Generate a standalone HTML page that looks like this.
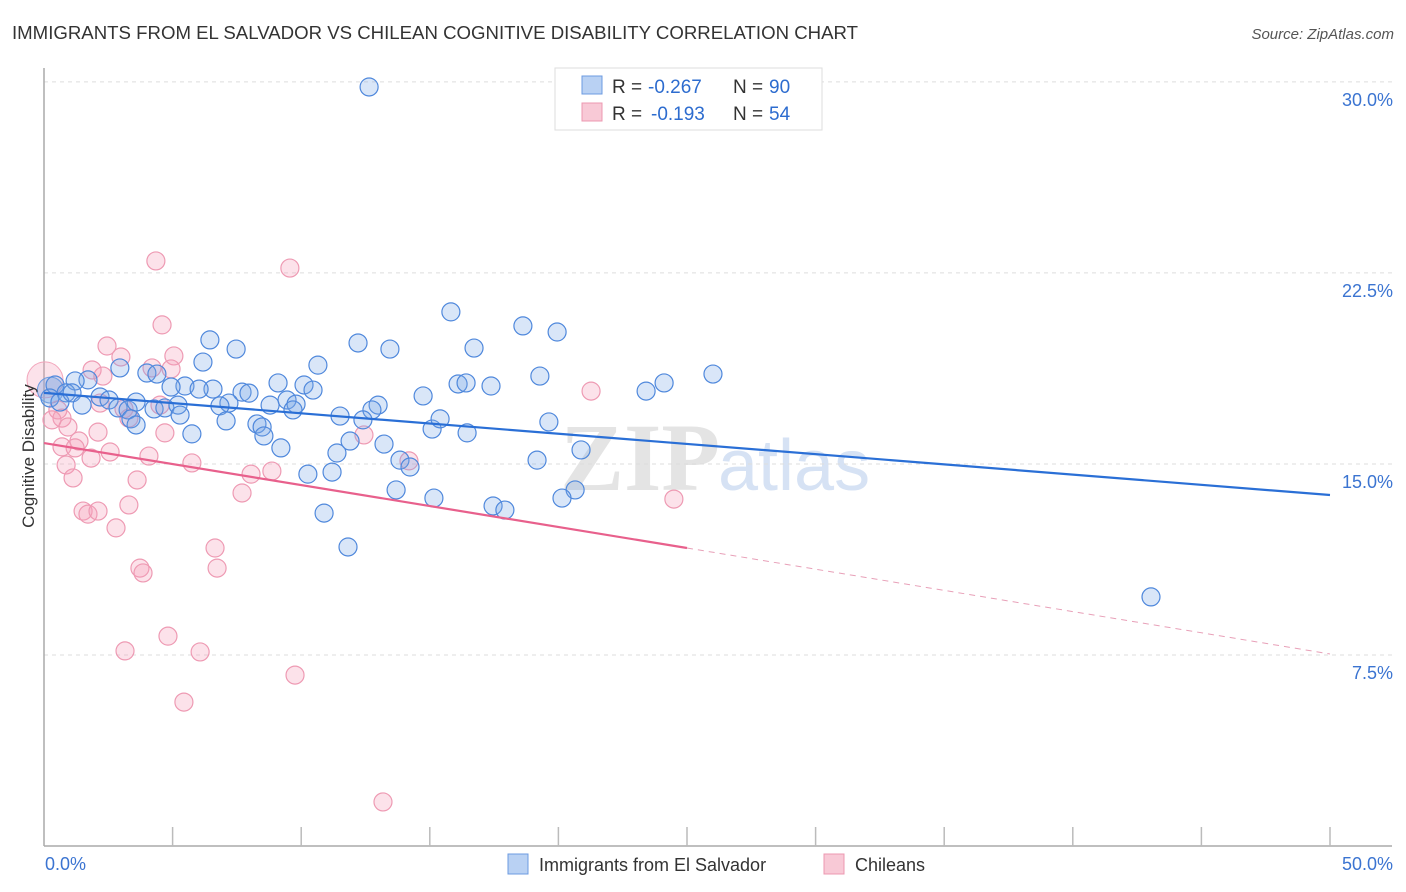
<!DOCTYPE html>
<html><head><meta charset="utf-8">
<style>
body{margin:0;background:#fff;font-family:"Liberation Sans",sans-serif;}
svg{display:block}
</style></head>
<body>
<svg id="chart" width="1406" height="892">
<text x="12" y="39" font-size="18" fill="#333" textLength="846" lengthAdjust="spacingAndGlyphs">IMMIGRANTS FROM EL SALVADOR VS CHILEAN COGNITIVE DISABILITY CORRELATION CHART</text>
<text x="1394" y="39" font-size="15" fill="#555" font-style="italic" text-anchor="end">Source: ZipAtlas.com</text>
<text x="720" y="490" font-size="96" fill="#e4e4e4" font-family="Liberation Serif,serif" font-weight="bold" text-anchor="end">ZIP</text>
<text x="718" y="490" font-size="72" fill="#d6e2f4" text-anchor="start">atlas</text>
<g id="grid"></g>
<g id="axes"></g>
<g id="pts"></g>
<g id="trend"></g>
<text transform="translate(34,456) rotate(-90)" font-size="17" fill="#333" text-anchor="middle">Cognitive Disability</text>
<g>
<rect x="555" y="68" width="267" height="62" fill="#fff" stroke="#ddd"/>
<rect x="582" y="76" width="20" height="18" fill="#b9d1f3" stroke="#6c9be0"/>
<rect x="582" y="103" width="20" height="18" fill="#f8c9d6" stroke="#ec98b0"/>
<text x="612" y="93" font-size="19" fill="#333">R =</text>
<text x="648" y="93" font-size="19" fill="#2d6ccf">-0.267</text>
<text x="733" y="93" font-size="19" fill="#333">N =</text>
<text x="769" y="93" font-size="19" fill="#2d6ccf">90</text>
<text x="612" y="120" font-size="19" fill="#333">R =</text>
<text x="651" y="120" font-size="19" fill="#2d6ccf">-0.193</text>
<text x="733" y="120" font-size="19" fill="#333">N =</text>
<text x="769" y="120" font-size="19" fill="#2d6ccf">54</text>
</g>
<g>
<rect x="508" y="854" width="20" height="20" fill="#b9d1f3" stroke="#6c9be0"/>
<text x="539" y="871" font-size="18" fill="#333">Immigrants from El Salvador</text>
<rect x="824" y="854" width="20" height="20" fill="#f8c9d6" stroke="#ec98b0"/>
<text x="855" y="871" font-size="18" fill="#333">Chileans</text>
</g>
</svg>
<script>
const yTicks=[7.5,15,22.5,30];
const yTickLabels=["7.5%","15.0%","22.5%","30.0%"];
const xTickLabels=["0.0%","50.0%"];
const blueX=[12.64,15.82,18.62,19.95,6.45,7.47,12.21,13.45,16.72,6.18,10.65,19.28,26.01,24.11,23.41,16.10,16.41,17.38,14.74,9.10,10.11,10.46,5.48,4.94,6.57,6.03,7.70,7.97,4.0,4.39,1.71,1.21,0.43,0.86,0.23,0.62,2.18,2.53,2.88,3.27,3.58,4.28,4.70,5.21,5.29,7.19,6.84,8.79,9.45,9.80,9.68,12.99,12.75,11.51,12.40,7.08,8.28,8.48,8.55,5.75,3.38,3.58,15.09,15.40,19.63,16.45,11.90,13.22,9.21,11.39,20.88,13.84,14.23,10.26,11.20,19.17,13.69,15.16,20.65,20.14,17.46,17.92,10.89,11.82,43.04,1.09,1.48,2.95];
const blueY=[29.8,20.97,20.42,20.18,19.87,19.51,19.75,19.51,19.55,19.0,18.88,18.45,18.53,18.18,17.86,18.14,18.18,18.06,17.67,18.18,18.1,17.9,18.06,18.02,17.94,17.94,17.82,17.78,18.57,18.53,18.3,18.26,18.1,17.79,17.59,17.43,17.63,17.51,17.2,17.12,17.43,17.16,17.2,17.31,16.92,17.39,17.28,17.31,17.51,17.35,17.12,17.31,17.12,16.88,16.73,16.69,16.57,16.45,16.1,16.18,16.77,16.53,16.37,16.77,16.65,16.22,15.9,15.78,15.63,15.43,15.55,15.15,14.88,14.6,14.68,15.15,13.98,13.66,13.98,13.66,13.35,13.19,13.07,11.74,9.78,17.79,17.31,18.77];
const pinkX=[4.35,9.56,4.59,2.45,2.99,5.05,1.87,2.29,4.20,4.94,4.51,2.18,3.11,3.30,0.54,0.70,0.93,0.31,2.10,1.36,4.70,12.44,0.70,1.21,2.57,4.08,1.83,0.86,5.75,1.13,3.62,8.05,8.86,14.19,7.70,21.27,24.49,3.30,1.52,1.71,2.10,2.80,6.65,6.73,3.73,3.85,4.82,3.15,6.07,9.76,5.44,13.18];
const pinkY=[22.97,22.69,20.46,19.63,19.2,19.24,18.69,18.45,18.77,18.73,17.31,17.39,17.16,16.8,17.12,16.8,16.45,16.73,16.25,15.9,16.22,16.14,15.67,15.63,15.47,15.31,15.23,14.96,15.04,14.45,14.37,14.6,14.72,15.12,13.86,17.86,13.62,13.39,13.15,13.03,13.15,12.49,11.7,10.91,10.91,10.72,8.24,7.66,7.62,6.71,5.65,1.73];
const blueTrend=[17.79,13.78];
const pinkTrend=[15.82,11.70,7.54];
const pinkSolidEnd=25;

const X0=44,X1=1330,Y0=846,Ypx=25.47;
const sx=v=>X0+v*(X1-X0)/50;
const sy=v=>Y0-v*Ypx;
const NS="http://www.w3.org/2000/svg";
function mk(tag,parent,attrs){const e=document.createElementNS(NS,tag);for(const k in attrs)e.setAttribute(k,attrs[k]);document.getElementById(parent).appendChild(e);return e;}

yTicks.forEach((t,i)=>{
  const g=mk('line','grid',{x1:X0,x2:1392,y1:sy(t),y2:sy(t),stroke:'#ddd','stroke-dasharray':'4,4'});
  
  
  const l=mk('text','axes',{x:1393,y:sy(t)+24,'font-size':18,fill:'#3b74d1','text-anchor':'end'});
  l.textContent=yTickLabels[i];
  
  
});
const ax=mk('line','axes',{x1:X0,x2:X0,y1:68,y2:Y0,stroke:'#aaa','stroke-width':1.5});


const bx=mk('line','axes',{x1:X0,x2:1392,y1:Y0,y2:Y0,stroke:'#aaa','stroke-width':1.5});


for(let i=1;i<=10;i++){
  const t=mk('line','axes',{x1:sx(i*5),x2:sx(i*5),y1:Y0-19,y2:Y0,stroke:'#bbb','stroke-width':1.5});
  
  
}
[[0,'start',45],[50,'end',1393]].forEach((d,i)=>{
  const l=mk('text','axes',{x:d[2],y:870,'font-size':18,fill:'#3b74d1','text-anchor':d[1]});
  l.textContent=xTickLabels[i];
  
  
});
const bigP=mk('circle','pts',{cx:sx(0.04),cy:sy(18.3),r:18,fill:'rgba(244,160,185,0.3)',stroke:'#f2a5bb'});


const bigB=mk('circle','pts',{cx:sx(0.25),cy:sy(17.9),r:13,fill:'rgba(120,165,230,0.35)',stroke:'#6c9be0'});


pinkX.forEach((x,i)=>{
  const c=mk('circle','pts',{cx:sx(x),cy:sy(pinkY[i]),r:9,fill:'rgba(244,160,185,0.3)',stroke:'#ee9ab3','stroke-width':1.2});
  
  
});
blueX.forEach((x,i)=>{
  const c=mk('circle','pts',{cx:sx(x),cy:sy(blueY[i]),r:9,fill:'rgba(120,165,230,0.28)',stroke:'#4f88dc','stroke-width':1.2});
  
  
});
const bt=mk('line','trend',{x1:sx(0),y1:sy(blueTrend[0]),x2:sx(50),y2:sy(blueTrend[1]),stroke:'#2a6fd6','stroke-width':2.2});


const pt=mk('line','trend',{x1:sx(0),y1:sy(pinkTrend[0]),x2:sx(pinkSolidEnd),y2:sy(pinkTrend[1]),stroke:'#e8608c','stroke-width':2.2});


const pd=mk('line','trend',{x1:sx(pinkSolidEnd),y1:sy(pinkTrend[1]),x2:sx(50),y2:sy(pinkTrend[2]),stroke:'#e8a0b8','stroke-width':1,'stroke-dasharray':'6,5'});


</script>
</body></html>
